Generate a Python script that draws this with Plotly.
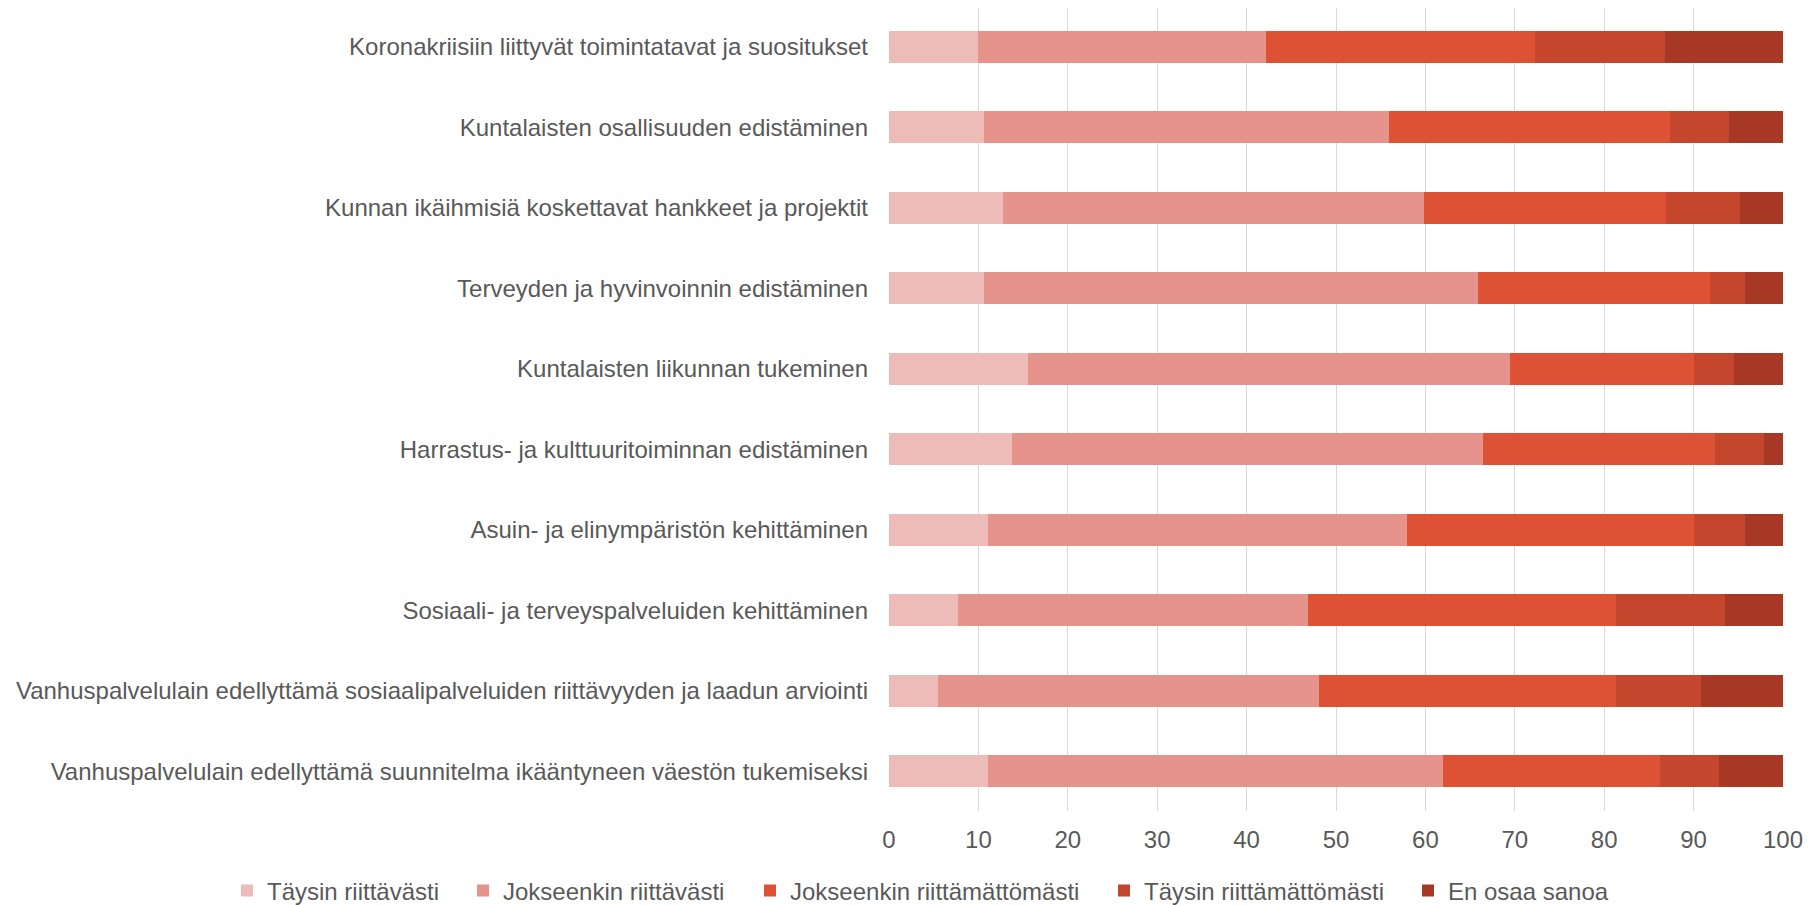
import plotly.graph_objects as go

categories = [
    "Koronakriisiin liittyvät toimintatavat ja suositukset",
    "Kuntalaisten osallisuuden edistäminen",
    "Kunnan ikäihmisiä koskettavat hankkeet ja projektit",
    "Terveyden ja hyvinvoinnin edistäminen",
    "Kuntalaisten liikunnan tukeminen",
    "Harrastus- ja kulttuuritoiminnan edistäminen",
    "Asuin- ja elinympäristön kehittäminen",
    "Sosiaali- ja terveyspalveluiden kehittäminen",
    "Vanhuspalvelulain edellyttämä sosiaalipalveluiden riittävyyden ja laadun arviointi",
    "Vanhuspalvelulain edellyttämä suunnitelma ikääntyneen väestön tukemiseksi",
]

series_names = [
    "Täysin riittävästi",
    "Jokseenkin riittävästi",
    "Jokseenkin riittämättömästi",
    "Täysin riittämättömästi",
    "En osaa sanoa",
]

taysin_riittavasti = [10.0, 10.6, 12.7, 10.6, 15.6, 13.8, 11.1, 7.7, 5.5, 11.1]
jokseenkin_riittavasti = [32.2, 45.3, 47.1, 55.3, 53.9, 52.6, 46.8, 39.2, 42.6, 50.9]
jokseenkin_riittamattomasti = [30.1, 31.5, 27.1, 25.9, 20.5, 26.0, 32.1, 34.4, 33.2, 24.2]
taysin_riittamattomasti = [14.5, 6.6, 8.3, 3.9, 4.5, 5.5, 5.7, 12.2, 9.5, 6.6]
en_osaa_sanoa = [13.2, 6.0, 4.8, 4.3, 5.5, 2.1, 4.3, 6.5, 9.2, 7.2]

series_values = [
    taysin_riittavasti,
    jokseenkin_riittavasti,
    jokseenkin_riittamattomasti,
    taysin_riittamattomasti,
    en_osaa_sanoa,
]

colors = ["#EDBBB8", "#E6938B", "#DD5235", "#C4472D", "#A63825"]

x_ticks = [0, 10, 20, 30, 40, 50, 60, 70, 80, 90, 100]

# The page puts the figure 8 px in from the top-left corner, so the
# figure is sized to end exactly at the window edges.
W, H = 1804, 897
ML, MR, MT, MB = 881, 29, 0, 94
PW = W - ML - MR
PH = H - MT - MB

# legend entry left edges (figure pixels), one legend box per series
legend_left_px = [219, 455, 742, 1096, 1400]
legend_center_y = 883

FONT = "Liberation Sans, Arial, sans-serif"
TXT = "#595959"
FS = 24

fig = go.Figure()
legend_keys = ["legend"] + [f"legend{i}" for i in range(2, 6)]
for name, vals, col, lk in zip(series_names, series_values, colors, legend_keys):
    fig.add_trace(go.Bar(
        y=categories,
        x=vals,
        name=name,
        orientation="h",
        marker=dict(color=col, line=dict(width=0)),
        legend=lk,
    ))

legends = {}
for lk, lp in zip(legend_keys, legend_left_px):
    legends[lk] = dict(
        orientation="h",
        x=(lp - ML) / PW,
        xanchor="left",
        y=(MT + PH - legend_center_y) / PH,
        yanchor="middle",
        font=dict(family=FONT, size=FS, color=TXT),
        itemwidth=30,
        bgcolor="rgba(0,0,0,0)",
    )

# category band: first bar centre 38.7 px below plot top, 80.5 px per row
row_px = 80.5
top_val = 9 + 38.7 / row_px
bot_val = top_val - PH / row_px

fig.update_layout(
    barmode="stack",
    bargap=0.6,
    width=W,
    height=H,
    margin=dict(l=ML, r=MR, t=MT, b=MB, autoexpand=False, pad=0),
    paper_bgcolor="white",
    plot_bgcolor="white",
    font=dict(family=FONT, size=FS, color=TXT),
    showlegend=True,
    xaxis=dict(
        range=[0, 100],
        tickvals=x_ticks,
        showgrid=True,
        gridcolor="#D9D9D9",
        gridwidth=1.4,
        zeroline=False,
        showline=False,
        ticks="",
        ticklabelstandoff=12,
        tickfont=dict(family=FONT, size=FS, color=TXT),
    ),
    yaxis=dict(
        categoryorder="array",
        categoryarray=categories[::-1],
        autorange=False,
        range=[bot_val, top_val],
        ticks="",
        showline=False,
        showgrid=False,
        ticklabelstandoff=20,
        tickfont=dict(family=FONT, size=FS, color=TXT),
    ),
    **legends,
)

fig.write_html("out.html")
